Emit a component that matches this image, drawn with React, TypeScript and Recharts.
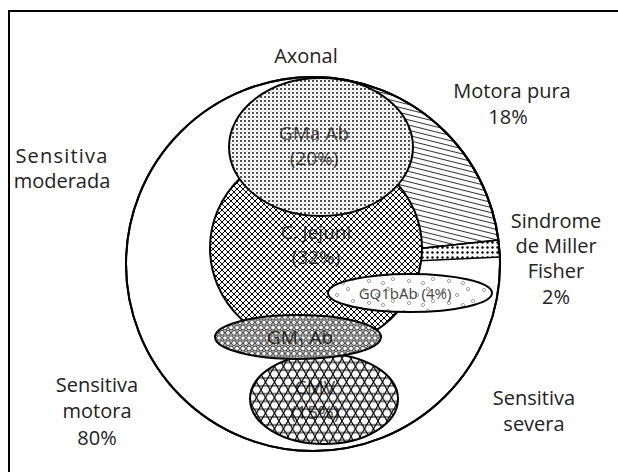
import { Scatter, ScatterChart, XAxis, YAxis } from 'recharts';

const W = 618;
const H = 472;
const FONT = '"Open Sans", "DejaVu Sans", sans-serif';

// outer set (all axonal cases)
const outerCx = 313;
const outerCy = 264;
const outerR = 187;

// inner sets, drawn in this order (later ones on top)
const setNames = ['jejuni', 'gma', 'gq1b', 'cmv', 'gm1'];
const setCx = [316, 321, 410, 324, 298];
const setCy = [248, 147, 293, 399, 337];
const setRx = [106, 92, 82, 74, 83];
const setRy = [100, 69, 19, 45, 22];
const setLine1 = ['C. Jejuni', 'GMa Ab', 'GQ1bAb (4%)', 'CMV', 'GM1Ab'];
const setLine2 = ['(32%)', '(20%)', '', '(15%)', ''];
const setLabelX = [316, 314, 405, 315, 300];
const setLabelY = [232, 133, 293, 387, 337];

// regions cut out of the outer set (first edge follows the outer circle)
const motoraX = [320, 498, 415, 330];
const motoraY = [77, 240, 249, 150];
const fisherX = [498, 500, 415, 415];
const fisherY = [240, 257, 261, 249];

// labels around the diagram
const outerText = ['Axonal', 'Motora pura', '18%', 'Sensitiva', 'moderada', 'Sindrome', 'de Miller', 'Fisher', '2%', 'Sensitiva', 'motora', '80%', 'Sensitiva', 'severa'];
const outerTextX = [306, 512, 508, 62, 62, 556, 556, 556, 556, 97, 97, 97, 534, 534];
const outerTextY = [55, 90, 116, 155, 180, 220, 245, 270, 296, 384, 410, 437, 397, 423];

const patternOf: Record<string, string> = {
  jejuni: 'url(#crosshatch)',
  gma: 'url(#finedots)',
  gq1b: 'url(#rings)',
  cmv: 'url(#lattice)',
  gm1: 'url(#spheres)',
};

const K = W / W; // data units -> px (plot area equals chart size)

const setData = setNames.map((name, i) => ({
  name, x: setCx[i], y: setCy[i], rx: setRx[i], ry: setRy[i],
  l1: setLine1[i], l2: setLine2[i], lx: setLabelX[i], ly: setLabelY[i],
}));

const regionData = [
  { name: 'motora', x: motoraX[0], y: motoraY[0], xs: motoraX, ys: motoraY, fill: 'url(#hlines)' },
  { name: 'fisher', x: fisherX[0], y: fisherY[0], xs: fisherX, ys: fisherY, fill: 'url(#bigdots)' },
];

const textData = outerText.map((t, i) => ({ t, x: outerTextX[i], y: outerTextY[i] }));

const Patterns = () => (
  <svg width={0} height={0} style={{ position: 'absolute' }}>
    <defs>
      <pattern id="crosshatch" width={6} height={6} patternUnits="userSpaceOnUse">
        <path d="M0,0 L6,6 M6,0 L0,6" stroke="#000" strokeWidth={1} />
      </pattern>
      <pattern id="finedots" width={4} height={4} patternUnits="userSpaceOnUse">
        <circle cx={1} cy={1} r={0.9} fill="#000" />
        <circle cx={3} cy={3} r={0.6} fill="#999" />
      </pattern>
      <pattern id="hlines" width={5} height={5} patternUnits="userSpaceOnUse" patternTransform="rotate(14)">
        <line x1={0} y1={2.5} x2={5} y2={2.5} stroke="#000" strokeWidth={0.8} />
      </pattern>
      <pattern id="bigdots" width={5} height={5} patternUnits="userSpaceOnUse">
        <circle cx={2.5} cy={2.5} r={1.2} fill="#000" />
      </pattern>
      <pattern id="rings" width={40} height={22} patternUnits="userSpaceOnUse">
        <circle cx={4} cy={4} r={1.6} fill="none" stroke="#666" strokeWidth={0.6} />
        <circle cx={17} cy={9} r={1.6} fill="none" stroke="#666" strokeWidth={0.6} />
        <circle cx={28} cy={3} r={1.6} fill="none" stroke="#666" strokeWidth={0.6} />
        <circle cx={33} cy={15} r={1.6} fill="none" stroke="#666" strokeWidth={0.6} />
        <circle cx={9} cy={17} r={1.6} fill="none" stroke="#666" strokeWidth={0.6} />
        <circle cx={23} cy={19} r={1.6} fill="none" stroke="#666" strokeWidth={0.6} />
      </pattern>
      <pattern id="spheres" width={6} height={10.4} patternUnits="userSpaceOnUse">
        <circle cx={0} cy={0} r={2.4} fill="none" stroke="#000" strokeWidth={0.9} />
        <circle cx={6} cy={0} r={2.4} fill="none" stroke="#000" strokeWidth={0.9} />
        <circle cx={0} cy={10.4} r={2.4} fill="none" stroke="#000" strokeWidth={0.9} />
        <circle cx={6} cy={10.4} r={2.4} fill="none" stroke="#000" strokeWidth={0.9} />
        <circle cx={3} cy={5.2} r={2.4} fill="none" stroke="#000" strokeWidth={0.9} />
      </pattern>
      <pattern id="lattice" width={9} height={15.59} patternUnits="userSpaceOnUse">
        <path d="M0,0 L9,15.59 M9,0 L0,15.59 M0,3.9 L9,3.9 M0,11.69 L9,11.69" stroke="#000" strokeWidth={1.1} />
      </pattern>
    </defs>
  </svg>
);

const OuterShape = (props: any) => {
  const { cx, cy } = props;
  return <ellipse cx={cx} cy={cy} rx={outerR * K} ry={outerR * K} fill={props.outline ? 'none' : '#fff'} stroke="#000" strokeWidth={2} />;
};

const RegionShape = (props: any) => {
  const { cx, cy, payload } = props;
  const px = (v: number) => cx + (v - payload.x) * K;
  const py = (v: number) => cy + (v - payload.y) * K;
  const xs: number[] = payload.xs;
  const ys: number[] = payload.ys;
  let d = `M${px(xs[0])},${py(ys[0])} A${outerR * K},${outerR * K} 0 0 1 ${px(xs[1])},${py(ys[1])}`;
  for (let i = 2; i < xs.length; i++) d += ` L${px(xs[i])},${py(ys[i])}`;
  d += ' Z';
  return <path d={d} fill={payload.fill} stroke="#000" strokeWidth={1.5} />;
};

const SetShape = (props: any) => {
  const { cx, cy, payload } = props;
  const rx = payload.rx * K;
  const ry = payload.ry * K;
  const lx = cx + (payload.lx - payload.x) * K;
  const ly = cy + (payload.ly - payload.y) * K;
  const small = payload.name === 'gq1b';
  return (
    <g>
      <ellipse cx={cx} cy={cy} rx={rx} ry={ry} fill="#fff" />
      <text x={lx} y={ly} textAnchor="middle" dominantBaseline="central" fontFamily={FONT} fontSize={small ? 15 : 19} fill="#444">
        {payload.name === 'gm1' ? (
          <>GM<tspan fontSize={12} dy={5}>1</tspan><tspan dy={-5}> Ab</tspan></>
        ) : payload.l1}
      </text>
      {payload.l2 && (
        <text x={lx} y={ly + 25} textAnchor="middle" dominantBaseline="central" fontFamily={FONT} fontSize={19} fill="#444">
          {payload.l2}
        </text>
      )}
      <ellipse cx={cx} cy={cy} rx={rx} ry={ry} fill={patternOf[payload.name]} stroke="#000" strokeWidth={2} />
    </g>
  );
};

const TextShape = (props: any) => {
  const { cx, cy, payload } = props;
  const spaced = payload.t === 'Sensitiva' && payload.y < 200;
  return (
    <text x={cx} y={cy} textAnchor="middle" dominantBaseline="central" fontFamily={FONT} fontSize={20} fill="#222" letterSpacing={spaced ? 1.2 : 0}>
      {payload.t}
    </text>
  );
};

export default function App() {
  return (
    <div style={{ position: 'absolute', left: 0, top: 0, width: W, height: H, overflow: 'hidden', background: '#fff' }}>
      <Patterns />
      <div style={{ position: 'absolute', left: 8, top: 10, width: 700, height: 600, borderTop: '2px solid #000', borderLeft: '2px solid #000' }} />
      <div style={{ position: 'absolute', left: 0, top: 0 }}>
        <ScatterChart width={W} height={H} margin={{ top: 0, right: 0, bottom: 0, left: 0 }}>
          <XAxis type="number" dataKey="x" domain={[0, W]} hide allowDataOverflow />
          <YAxis type="number" dataKey="y" domain={[0, H]} reversed hide allowDataOverflow />
          <Scatter data={[{ x: outerCx, y: outerCy }]} shape={<OuterShape />} isAnimationActive={false} />
          <Scatter data={regionData} shape={<RegionShape />} isAnimationActive={false} />
          <Scatter data={setData} shape={<SetShape />} isAnimationActive={false} />
          <Scatter data={[{ x: outerCx, y: outerCy }]} shape={<OuterShape outline />} isAnimationActive={false} />
          <Scatter data={textData} shape={<TextShape />} isAnimationActive={false} />
        </ScatterChart>
      </div>
    </div>
  );
}
